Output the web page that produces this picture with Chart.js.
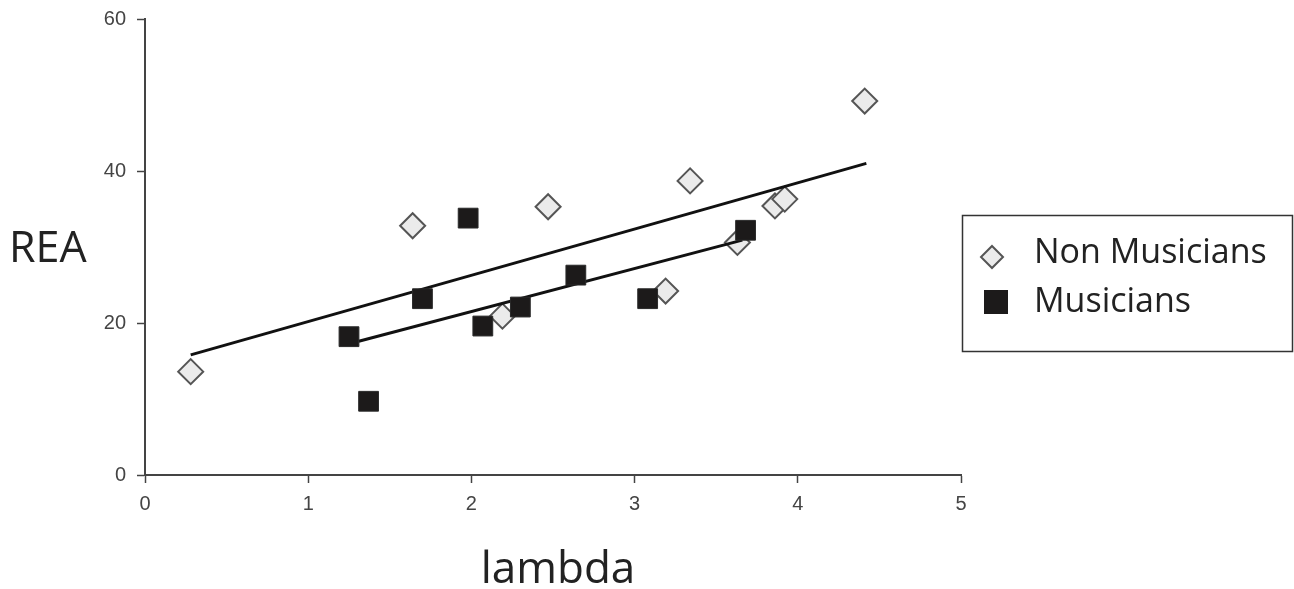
<!DOCTYPE html>
<html>
<head>
<meta charset="utf-8">
<script src="https://cdn.jsdelivr.net/npm/chart.js@4.4.1/dist/chart.umd.min.js"></script>
<style>
  html, body { margin: 0; padding: 0; background: #ffffff; }
  #wrap { position: relative; width: 1294px; height: 589px; }
</style>
</head>
<body>
<div id="wrap"><canvas id="c" width="1294" height="589"></canvas></div>
<script>
// ---- data ----
const nonMusiciansX = [0.28, 1.64, 2.19, 2.47, 3.19, 3.34, 3.63, 3.86, 3.92, 4.41];
const nonMusiciansY = [13.6, 32.8, 20.9, 35.3, 24.2, 38.7, 30.6, 35.4, 36.3, 49.2];
const musiciansX = [1.25, 1.37, 1.70, 1.98, 2.07, 2.30, 2.64, 3.08, 3.68];
const musiciansY = [18.2, 9.7, 23.2, 33.8, 19.6, 22.1, 26.3, 23.2, 32.2];
const trendNonX = [0.28, 4.42];
const trendNonY = [15.8, 41.0];
const trendMusX = [1.31, 3.66];
const trendMusY = [17.6, 30.9];
const xTicks = [0, 1, 2, 3, 4, 5];
const yTicks = [0, 20, 40, 60];
const seriesNames = ['Non Musicians', 'Musicians'];
const xTitle = 'lambda';
const yTitle = 'REA';

const pts = (xs, ys) => xs.map((x, i) => ({ x: x, y: ys[i] }));

const overlay = {
  id: 'overlay',
  afterDraw(chart) {
    const ctx = chart.ctx;
    ctx.save();
    // axis titles
    ctx.fillStyle = '#222';
    ctx.font = '43px "Open Sans"';
    ctx.textAlign = 'left';
    ctx.textBaseline = 'alphabetic';
    ctx.fillText(yTitle, 9, 262);
    ctx.font = '44px "Open Sans"';
    ctx.textAlign = 'center';
    ctx.fillText(xTitle, 558, 583);
    // legend box
    ctx.strokeStyle = '#333';
    ctx.lineWidth = 1.5;
    ctx.strokeRect(962.5, 215.5, 330, 136);
    // diamond marker
    ctx.beginPath();
    ctx.moveTo(992, 246); ctx.lineTo(1003, 257); ctx.lineTo(992, 268); ctx.lineTo(981, 257);
    ctx.closePath();
    ctx.fillStyle = '#ebebeb';
    ctx.fill();
    ctx.strokeStyle = '#555';
    ctx.lineWidth = 2;
    ctx.stroke();
    // square marker
    ctx.fillStyle = '#1c1a1a';
    ctx.fillRect(984, 290, 24, 24);
    // legend text
    ctx.fillStyle = '#222';
    ctx.font = '34px "Open Sans"';
    ctx.textAlign = 'left';
    ctx.fillText(seriesNames[0], 1034, 263);
    ctx.fillText(seriesNames[1], 1034, 312);
    ctx.restore();
  }
};

new Chart(document.getElementById('c'), {
  type: 'scatter',
  data: {
    datasets: [
      {
        label: seriesNames[1],
        data: pts(musiciansX, musiciansY),
        pointStyle: 'rect',
        pointRadius: 14,
        pointHoverRadius: 14,
        backgroundColor: '#1c1a1a',
        borderColor: '#2a2a2a',
        borderWidth: 1
      },
      {
        label: 'trendMus',
        data: pts(trendMusX, trendMusY),
        showLine: true,
        pointRadius: 0,
        borderColor: '#111',
        borderWidth: 3,
        fill: false
      },
      {
        label: 'trendNon',
        data: pts(trendNonX, trendNonY),
        showLine: true,
        pointRadius: 0,
        borderColor: '#111',
        borderWidth: 3,
        fill: false
      },
      {
        label: seriesNames[0],
        data: pts(nonMusiciansX, nonMusiciansY),
        pointStyle: 'rectRot',
        pointRadius: 12.5,
        pointHoverRadius: 12.5,
        backgroundColor: '#ebebeb',
        borderColor: '#555',
        borderWidth: 2
      }
    ]
  },
  options: {
    responsive: false,
    animation: false,
    events: [],
    layout: { padding: { left: 0, right: 333, top: 19, bottom: 0 } },
    plugins: { legend: { display: false }, tooltip: { enabled: false } },
    scales: {
      x: {
        type: 'linear',
        min: 0, max: 5,
        afterFit(scale) { scale.height = 114; scale.paddingLeft = 0; scale.paddingRight = 0; },
        afterBuildTicks(scale) { scale.ticks = xTicks.map(v => ({ value: v })); },
        grid: { drawOnChartArea: false, drawTicks: true, tickLength: 8, color: '#444', tickWidth: 1.5 },
        border: { display: true, color: '#444', width: 2 },
        ticks: { color: '#444', font: { family: '"Liberation Sans", Arial', size: 20 }, padding: 9, maxRotation: 0 }
      },
      y: {
        type: 'linear',
        min: 0, max: 60,
        afterFit(scale) { scale.width = 145; scale.paddingTop = 0; scale.paddingBottom = 0; },
        afterBuildTicks(scale) { scale.ticks = yTicks.map(v => ({ value: v })); },
        grid: { drawOnChartArea: false, drawTicks: true, tickLength: 8, color: '#444', tickWidth: 1.5 },
        border: { display: true, color: '#444', width: 2 },
        ticks: { color: '#444', font: { family: '"Liberation Sans", Arial', size: 20 }, padding: 11 }
      }
    }
  },
  plugins: [overlay]
});
</script>
</body>
</html>
